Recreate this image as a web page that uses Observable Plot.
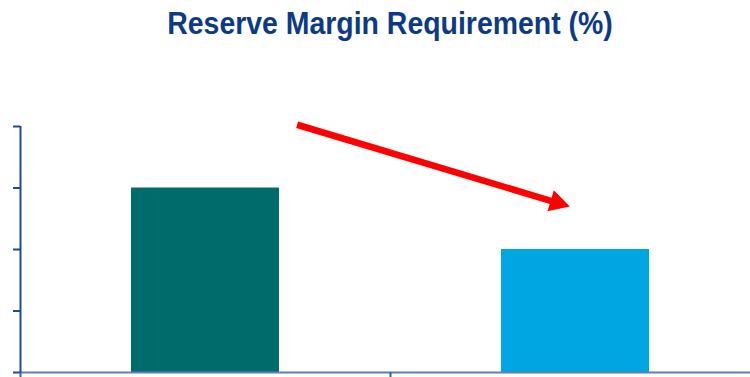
<!DOCTYPE html>
<html><head><meta charset="utf-8">
<script src="https://cdn.jsdelivr.net/npm/d3@7"></script>
<script src="https://cdn.jsdelivr.net/npm/@observablehq/plot@0.6"></script>
<style>
html,body{margin:0;padding:0;background:#fff;overflow:hidden}
#title{height:60px;position:relative;}
#title span{position:absolute;left:390px;top:6px;transform:translateX(-50%) scaleX(0.917);transform-origin:center;font-family:"Liberation Sans",Arial,sans-serif;font-weight:bold;font-size:31px;color:#0d3a86;white-space:nowrap}
</style></head><body>
<div id="title"><span>Reserve Margin Requirement (%)</span></div>
<div id="chart"></div>
<script>
// Data
const categories = ["Previous", "Proposed"];
const values = [3, 2];
const barColors = ["#006b6b", "#00a6e2"];
const yTicks = [0, 1, 2, 3, 4];
const slotBounds = [-0.5, 0.5, 1.5];
// Annotation arrow in data units (x = category index, y = value)
const arrowX = [0.249, 0.986];
const arrowY = [4.02, 2.69];

const bars = categories.map((c, i) => ({category: c, index: i, value: values[i], color: barColors[i]}));
const arrow = [{x1: arrowX[0], y1: arrowY[0], x2: arrowX[1], y2: arrowY[1]}];

function arrowRender(index, scales, vals) {
  const g = d3.create("svg:g");
  for (const i of index) {
    const X1 = vals.x1[i], Y1 = vals.y1[i], X2 = vals.x2[i], Y2 = vals.y2[i];
    const L = Math.hypot(X2 - X1, Y2 - Y1);
    const ux = (X2 - X1) / L, uy = (Y2 - Y1) / L;
    const nx = -uy, ny = ux;
    const head = 20, hw = 11, sw = 3.3;
    const bx = X2 - ux * head, by = Y2 - uy * head;
    const pts = [
      [X1 + nx * sw, Y1 + ny * sw],
      [bx + nx * sw, by + ny * sw],
      [bx + nx * hw, by + ny * hw],
      [X2, Y2],
      [bx - nx * hw, by - ny * hw],
      [bx - nx * sw, by - ny * sw],
      [X1 - nx * sw, Y1 - ny * sw]
    ];
    g.append("path").attr("d", "M" + pts.map(p => p.join(",")).join("L") + "Z").attr("fill", "#ff0000");
  }
  return g.node();
}

const chart = Plot.plot({
  width: 750,
  height: 317,
  marginTop: 66,
  marginBottom: 5,
  marginLeft: 20,
  marginRight: 0,
  x: {domain: [slotBounds[0], slotBounds[2]], range: [20, 760]},
  y: {domain: [yTicks[0], yTicks[yTicks.length - 1]]},
  marks: [
    Plot.rectY(bars, {x1: d => d.index - 0.2, x2: d => d.index + 0.2, y1: 0, y2: "value", fill: "color"}),
    Plot.ruleY([0], {x1: slotBounds[0], x2: slotBounds[2], stroke: "#5f7fbb", strokeWidth: 2}),
    Plot.ruleX([slotBounds[0]], {y1: 0, y2: yTicks[yTicks.length - 1], stroke: "#23498f", strokeWidth: 2}),
    Plot.axisY({ticks: yTicks, tickSize: 7, tickFormat: () => "", stroke: "#23498f", strokeWidth: 2}),
    Plot.axisX({ticks: slotBounds, tickSize: 5, tickFormat: () => "", stroke: "#3d5fa0", strokeWidth: 2}),
    Plot.link(arrow, {x1: "x1", y1: "y1", x2: "x2", y2: "y2", render: arrowRender})
  ]
});
document.getElementById("chart").appendChild(chart);
</script>
</body></html>
